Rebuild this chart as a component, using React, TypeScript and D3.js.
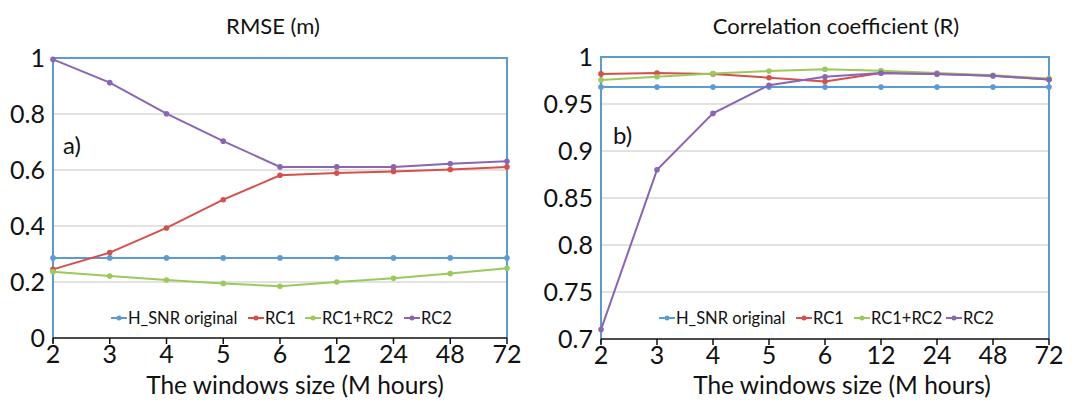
import React from 'react';
import * as d3 from 'd3';

const categories = ['2', '3', '4', '5', '6', '12', '24', '48', '72'];
const seriesNames = ['H_SNR original', 'RC1', 'RC1+RC2', 'RC2'];
const colors = ['#5B9BD5', '#D6504B', '#9BC95A', '#8866B4'];

// RMSE (m)
const rmseHsnr = [0.286, 0.286, 0.286, 0.286, 0.286, 0.286, 0.286, 0.286, 0.286];
const rmseRc1 = [0.245, 0.305, 0.393, 0.494, 0.581, 0.589, 0.595, 0.602, 0.611];
const rmseRc12 = [0.237, 0.221, 0.207, 0.195, 0.185, 0.2, 0.213, 0.23, 0.249];
const rmseRc2 = [0.995, 0.912, 0.801, 0.703, 0.611, 0.611, 0.611, 0.622, 0.631];
const rmseTicks = [0, 0.2, 0.4, 0.6, 0.8, 1];

// Correlation coefficient (R)
const corrHsnr = [0.968, 0.968, 0.968, 0.968, 0.968, 0.968, 0.968, 0.968, 0.968];
const corrRc1 = [0.982, 0.983, 0.982, 0.978, 0.974, 0.983, 0.982, 0.98, 0.976];
const corrRc12 = [0.9755, 0.979, 0.9825, 0.985, 0.987, 0.9855, 0.983, 0.9805, 0.977];
const corrRc2 = [0.71, 0.88, 0.94, 0.97, 0.979, 0.983, 0.982, 0.98, 0.976];
const corrTicks = [0.7, 0.75, 0.8, 0.85, 0.9, 0.95, 1];

const font = 'Lato, "Liberation Sans", sans-serif';

type PanelProps = {
  left: number;
  right: number;
  top: number;
  bottom: number;
  domain: [number, number];
  ticks: number[];
  series: number[][];
  title: string;
  titleX: number;
  xTitleX: number;
  tag: string;
  tagX: number;
  tagY: number;
  legendX: number[];
};

function Panel(p: PanelProps) {
  const x = d3.scalePoint<string>().domain(categories).range([p.left, p.right]);
  const y = d3.scaleLinear().domain(p.domain).range([p.bottom, p.top]);
  const line = d3
    .line<number>()
    .x((_, i) => x(categories[i]) as number)
    .y((d) => y(d));

  return (
    <g>
      <text x={p.titleX} y={34} textAnchor="middle" fontSize={22} fill="#111">
        {p.title}
      </text>
      {p.ticks.slice(1, -1).map((t) => (
        <line key={t} x1={p.left} x2={p.right} y1={y(t)} y2={y(t)} stroke="#D9D9D9" strokeWidth={1.5} />
      ))}
      {p.ticks.map((t) => (
        <text key={'l' + t} x={p.left - 8} y={y(t)} dy="0.36em" textAnchor="end" fontSize={25} fill="#111">
          {d3.format('~g')(t)}
        </text>
      ))}
      {/* frame */}
      <path
        d={`M${p.left},${p.bottom + 5}V${p.top}H${p.right}V${p.bottom}`}
        fill="none"
        stroke="#5B9BD5"
        strokeWidth={2}
      />
      <line x1={p.left} x2={p.right} y1={p.bottom} y2={p.bottom} stroke="#111" strokeWidth={1.5} />
      {categories.map((c) => (
        <g key={c}>
          <line x1={x(c)} x2={x(c)} y1={p.bottom} y2={p.bottom + 6} stroke="#111" strokeWidth={1.5} />
          <text x={x(c)} y={p.bottom + 25} textAnchor="middle" fontSize={25} fill="#111">
            {c}
          </text>
        </g>
      ))}
      <text x={p.xTitleX} y={394} textAnchor="middle" fontSize={24.5} fill="#111">
        The windows size (M hours)
      </text>
      <text x={p.tagX} y={p.tagY} fontSize={24} fill="#111">
        {p.tag}
      </text>
      {p.series.map((s, k) => (
        <g key={k}>
          <path d={line(s) || ''} fill="none" stroke={colors[k]} strokeWidth={2} />
          {s.map((v, i) => (
            <circle key={i} cx={x(categories[i])} cy={y(v)} r={2.8} fill={colors[k]} />
          ))}
        </g>
      ))}
      {seriesNames.map((n, k) => (
        <g key={n} transform={`translate(${p.legendX[k]},318)`}>
          <line x1={-8} x2={8} y1={0} y2={0} stroke={colors[k]} strokeWidth={2} />
          <circle cx={0} cy={0} r={2.5} fill={colors[k]} />
          <text x={9} y={0} dy="0.35em" fontSize={16.5} fill="#111">
            {n}
          </text>
        </g>
      ))}
    </g>
  );
}

export default function App() {
  return (
    <svg width={1087} height={403} style={{ position: 'absolute', left: 0, top: 0, background: '#fff', fontFamily: font }}>
      <Panel
        left={53}
        right={507}
        top={58}
        bottom={338}
        domain={[0, 1]}
        ticks={rmseTicks}
        series={[rmseHsnr, rmseRc1, rmseRc12, rmseRc2]}
        title="RMSE (m)"
        titleX={273}
        xTitleX={295}
        tag="a)"
        tagX={63}
        tagY={154}
        legendX={[119, 256, 313, 412]}
      />
      <Panel
        left={601}
        right={1049}
        top={57}
        bottom={339}
        domain={[0.7, 1]}
        ticks={corrTicks}
        series={[corrHsnr, corrRc1, corrRc12, corrRc2]}
        title="Correlation coefficient (R)"
        titleX={836}
        xTitleX={842}
        tag="b)"
        tagX={613}
        tagY={144}
        legendX={[667, 804, 862, 954]}
      />
    </svg>
  );
}
